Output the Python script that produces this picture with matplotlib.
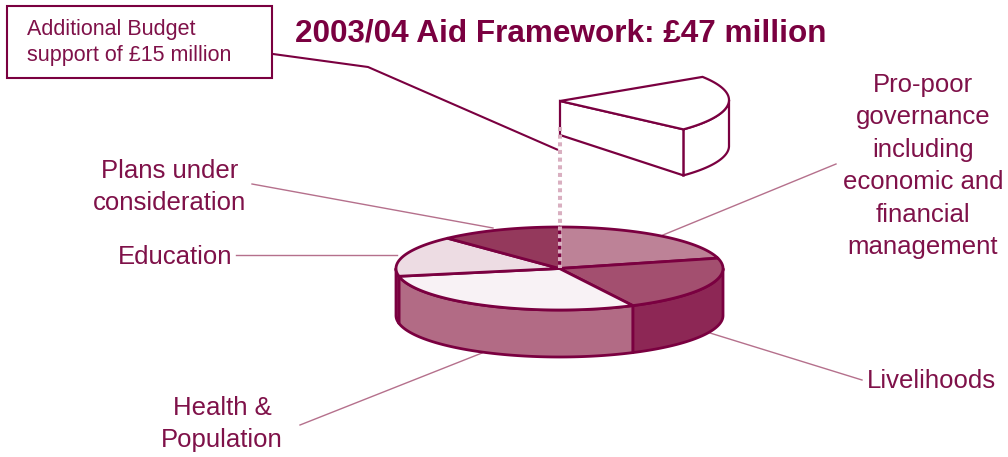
import numpy as np
import matplotlib
matplotlib.use("Agg")
import matplotlib.pyplot as plt
from matplotlib.patches import Polygon, Rectangle

# share of the framework per sector, clockwise from the top of the pie
sectors = ["Pro-poor governance", "Livelihoods", "Health & Population", "Education", "Plans under consideration"]
shares = [21, 21.6, 29.4, 16, 12]
top_colors = ["#BD8297", "#A34F6F", "#F8F2F5", "#EDDCE3", "#94395C"]
side_colors = ["#A34F6F", "#8D2755", "#B26B85", "#B26B85", "#94395C"]

# the slice lifted out of the pie, same units as shares
budget_share = 21
budget_start = 57.5

title = "2003/04 Aid Framework: £47 million"
box_text = "Additional Budget\nsupport of £15 million"

DARK = "#7A0040"
TEXT = "#7F1149"
LEADER = "#B5708C"
DOTS = "#D9AFC0"


def ellipse_pts(cx, cy, rx, ry, a0, a1, dy=0):
    # a0, a1 in degrees clockwise from the top of the ellipse
    t = np.radians(np.linspace(a0, a1, 80))
    return np.column_stack([cx + rx * np.sin(t), cy - ry * np.cos(t) + dy])


fig = plt.figure(figsize=(10.08, 4.57), dpi=100)
ax = fig.add_axes([0, 0, 1, 1])
ax.set_xlim(0, 1008)
ax.set_ylim(457, 0)
ax.axis("off")
plt.rcParams["font.family"] = ["Liberation Sans", "DejaVu Sans"]

# leader lines go under the pie
leaders = [
    ([252, 493], [184, 228]),
    ([236, 397], [255, 255]),
    ([836, 663], [164, 235]),
    ([862, 710], [380, 333]),
    ([300, 482], [425, 353]),
]
for xs, ys in leaders:
    ax.plot(xs, ys, color=LEADER, lw=1.0, zorder=1)

# main pie
cx, cy, rx, ry, depth = 559.5, 268.5, 163.5, 41.5, 47
edges = np.concatenate([[0], np.cumsum(shares)]) * 360 / sum(shares)

for i in range(len(shares)):
    a0 = max(edges[i], 90)
    a1 = min(edges[i + 1], 270)
    if a1 <= a0:
        continue
    upper = ellipse_pts(cx, cy, rx, ry, a0, a1)
    lower = ellipse_pts(cx, cy, rx, ry, a1, a0, dy=depth)
    ax.add_patch(Polygon(np.vstack([upper, lower]), closed=True, fc=side_colors[i],
                         ec=DARK, lw=2.0, joinstyle="round", zorder=2))

for i in range(len(shares)):
    arc = ellipse_pts(cx, cy, rx, ry, edges[i], edges[i + 1])
    pts = np.vstack([[cx, cy], arc])
    ax.add_patch(Polygon(pts, closed=True, fc=top_colors[i], ec=DARK, lw=2.0,
                         joinstyle="round", zorder=3))

# lifted slice
bx, by, brx, bry = 560, 100, 169, 43
apex = np.array([560, 101])
b0 = budget_start
b1 = budget_start + budget_share * 360 / sum(shares)
bdepth = 46
apex_depth = 34
curve_top = ellipse_pts(bx, by, brx, bry, 90, b1)
curve_low = ellipse_pts(bx, by, brx, bry, b1, 90, dy=bdepth)
ax.add_patch(Polygon(np.vstack([curve_top, curve_low]), closed=True, fc="white",
                     ec=DARK, lw=1.6, zorder=4))
corner = ellipse_pts(bx, by, brx, bry, b1, b1)[0]
ax.add_patch(Polygon([apex, corner, corner + [0, bdepth], apex + [0, apex_depth]], closed=True,
                     fc="white", ec=DARK, lw=1.6, zorder=4))
arc = ellipse_pts(bx, by, brx, bry, b0, b1)
ax.add_patch(Polygon(np.vstack([apex, arc]), closed=True, fc="white", ec=DARK, lw=1.6, zorder=5))

# dotted drop line between slice and pie
ax.plot([560, 560], [127, 268], color=DOTS, lw=2.9, ls=(0, (1.0, 0.9)), zorder=6,
        dash_capstyle="butt")

# callout
ax.add_patch(Rectangle((7, 6), 265, 72, fc="white", ec=DARK, lw=1.5, zorder=7))
ax.text(27, 42.5, box_text, color=TEXT, fontsize=15.5, ha="left", va="center", linespacing=1.26, zorder=8)
ax.plot([273, 368, 557], [54, 67, 149.5], color=DARK, lw=1.5, zorder=7)

ax.text(560.5, 33.5, title, color=DARK, fontsize=22.7, fontweight="bold", ha="center", va="center")

labels = [
    ("Pro-poor\ngovernance\nincluding\neconomic and\nfinancial\nmanagement", 923, 166),
    ("Plans under\nconsideration", 170, 187),
    ("Education", 175, 256.5),
    ("Livelihoods", 931, 381),
    ("Health &\nPopulation", 222, 424),
]
for txt, x, y in labels:
    ax.text(x, y, txt, color=TEXT, fontsize=18.5, ha="center", va="center", linespacing=1.44)

fig.savefig("out.png", dpi=100)
